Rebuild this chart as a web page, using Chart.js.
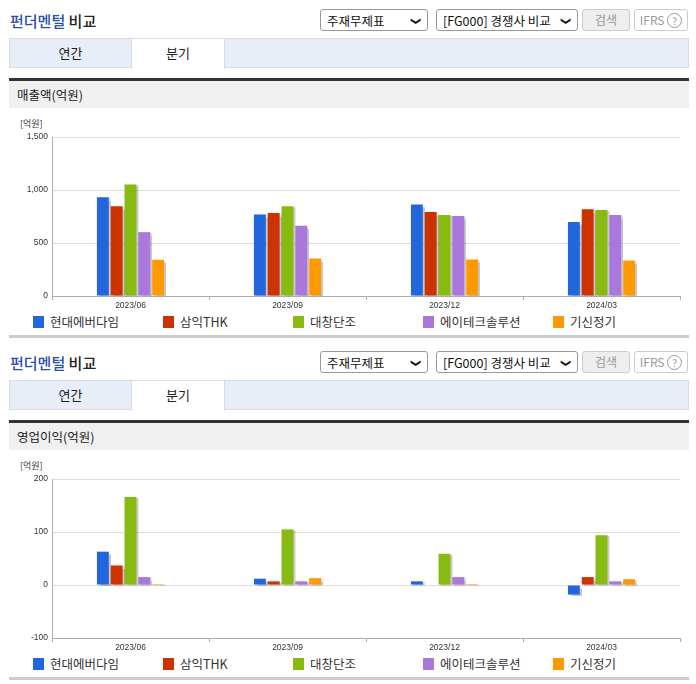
<!DOCTYPE html>
<html><head><meta charset="utf-8">
<script src="https://cdn.jsdelivr.net/npm/chart.js@4.4.1/dist/chart.umd.min.js"></script>
<style>
body{margin:0;width:696px;height:684px;position:relative;font-family:"Noto Sans CJK KR","Noto Sans",sans-serif;background:#fff;overflow:hidden}
.a{position:absolute}
.title{font-size:15px;color:#222;font-weight:500}
.title b{color:#2b4fa8;font-weight:500}
.sel{border:1px solid #999;border-radius:3px;height:22px;font-size:12.5px;line-height:22px;padding-left:6px;box-sizing:border-box;color:#111;background:#fff}
.sel span{position:absolute;right:6px;top:0;font-size:10px}
.btn{border:1px solid #ccc;border-radius:3px;height:22px;font-size:12px;line-height:20px;text-align:center;color:#999;box-sizing:border-box}
.tabs{left:9px;width:680px;height:30px;background:#e8eef7;border:1px solid #d5dde9;box-sizing:border-box}
.tab{top:0;height:29px;line-height:28px;font-size:13px;text-align:center;color:#222}
.bar{left:9px;width:680px;height:30px;background:#f0f0f0;border-top:3px solid #333;font-size:12.5px;line-height:28px;padding-left:8px;box-sizing:border-box;color:#222}
.unit{font-size:9px;color:#333}
.leg{font-size:12.5px;color:#333;display:flex;align-items:center}
.leg i{display:inline-block;width:11px;height:12px;margin-right:6px}
.hr{left:9px;width:680px;height:3px;background:#ccc}
</style></head><body>
<div id="root"></div>
<script>
const categories=["2023/06","2023/09","2023/12","2024/03"];
const seriesNames=["현대에버다임","삼익THK","대창단조","에이테크솔루션","기신정기"];
const colors=["#2266dd","#cc3300","#88bb11","#aa77dd","#ff9900"];
const salesValues=[[932,770,863,699],[848,783,792,820],[1053,848,764,811],[603,662,755,764],[342,354,345,335]];
const opValues=[[63,12,7,-18],[37,7,0,15],[166,105,59,94],[15,7,15,7],[2,13,2,11]];
const salesTicks=[0,500,1000,1500];
const opTicks=[-100,0,100,200];
const sections=[{off:0,label:"매출액(억원)",data:salesValues,min:0,max:1500,step:500},{off:342,label:"영업이익(억원)",data:opValues,min:-100,max:200,step:100}];
const root=document.getElementById('root');
function el(cls,style,html){const d=document.createElement('div');d.className='a '+cls;d.style.cssText=style;d.innerHTML=html||'';root.appendChild(d);return d;}
const shadow={id:'sh',beforeDatasetsDraw(c){const x=c.ctx;x.save();x.shadowColor='rgba(0,0,0,0.22)';x.shadowOffsetX=2;x.shadowOffsetY=1;x.shadowBlur=1;},afterDatasetsDraw(c){c.ctx.restore();}};
sections.forEach((s,si)=>{
 const o=s.off;
 el('title',`left:10px;top:${o+10}px`,'<b>펀더멘털</b> 비교');
 el('sel',`left:320px;top:${o+9}px;width:108px`,'주재무제표<span>&#10095;</span>').querySelector('span').style.transform='rotate(90deg)';
 el('sel',`left:436px;top:${o+9}px;width:142px`,'[FG000] 경쟁사 비교<span>&#10095;</span>').querySelector('span').style.transform='rotate(90deg)';
 el('btn',`left:582px;top:${o+9}px;width:48px;background:#eee`,'검색');
 el('btn',`left:634px;top:${o+9}px;width:54px`,'IFRS <span style="border:1px solid #999;border-radius:50%;display:inline-block;width:13px;height:13px;line-height:13px;font-size:10px">?</span>');
 const t=el('tabs',`top:${o+38}px`,'');
 t.innerHTML='<div class="a tab" style="left:0;width:121px">연간</div><div class="a tab" style="left:121px;width:92px;background:#fff;border-left:1px solid #d5dde9;border-right:1px solid #d5dde9;height:30px">분기</div>';
 el('bar',`top:${o+78}px`,s.label);
 el('unit',`left:20px;top:${o+117}px`,'[억원]');
 const cv=document.createElement('canvas');const w=el('',`left:0;top:${o+128}px;width:690px;height:184px`,'');w.appendChild(cv);
 const lg=el('',`left:33px;top:${o+312}px;width:660px;height:18px`,'');
 seriesNames.forEach((n,i)=>{const d=document.createElement('div');d.className='a leg';d.style.left=(i*130)+'px';d.innerHTML=`<i style="background:${colors[i]}"></i>${n}`;lg.appendChild(d);});
 el('hr',`top:${o+335}px`,'');
 new Chart(cv,{type:'bar',data:{labels:categories,datasets:seriesNames.map((n,i)=>({label:n,data:s.data[i],backgroundColor:colors[i],barPercentage:0.86,categoryPercentage:0.44}))},
 options:{responsive:true,maintainAspectRatio:false,animation:false,layout:{padding:{top:8,right:10,bottom:0,left:0}},
 plugins:{legend:{display:false},tooltip:{enabled:false}},
 scales:{x:{grid:{offset:true,drawOnChartArea:false,color:'#aab',tickLength:4},border:{color:'#aab'},ticks:{font:{size:8.5},color:'#333',padding:1},afterFit(a){a.height=16;}},
 y:{min:s.min,max:s.max,ticks:{stepSize:s.step,font:{size:8.5},color:'#333',padding:4,callback:v=>v.toLocaleString('en-US')},grid:{color:'#ddd',drawTicks:false},border:{color:'#aab'},afterFit(a){a.width=52;}}}},plugins:[shadow]});
});
</script></body></html>
